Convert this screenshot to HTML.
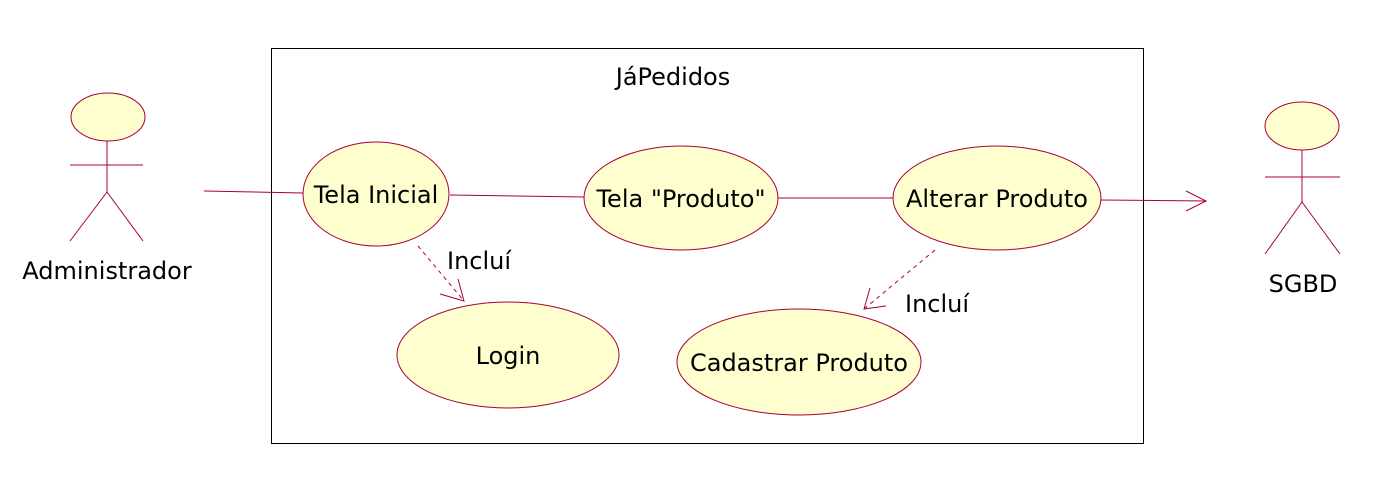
<!DOCTYPE html>
<html><head><meta charset="utf-8"><style>body{margin:0;background:#fff}svg{display:block}text{font-family:"DejaVu Sans","Liberation Sans",sans-serif;font-size:24px;fill:#000}</style></head>
<body>
<svg width="1395" height="491" viewBox="0 0 1395 491" xmlns="http://www.w3.org/2000/svg">
<rect x="271.5" y="48.5" width="872" height="395" fill="#fff" stroke="#000" stroke-width="1"/>
<text x="673" y="85" text-anchor="middle">JáPedidos</text>
<g stroke="#a80036" stroke-width="1" fill="none">
<ellipse cx="108" cy="117" rx="37" ry="24" fill="#fefece"/>
<line x1="107" y1="141" x2="107" y2="192"/><line x1="70" y1="165" x2="143" y2="165"/>
<line x1="107" y1="192" x2="70" y2="241"/><line x1="107" y1="192" x2="143" y2="241"/>
<ellipse cx="1302" cy="126" rx="37" ry="24" fill="#fefece"/>
<line x1="1302" y1="150" x2="1302" y2="202"/><line x1="1265" y1="177" x2="1340" y2="177"/>
<line x1="1302" y1="202" x2="1265" y2="254"/><line x1="1302" y1="202" x2="1340" y2="254"/>
<line x1="204" y1="191" x2="303" y2="193"/>
<line x1="450" y1="195" x2="584" y2="197"/>
<line x1="778" y1="198" x2="893" y2="198"/>
<line x1="1101" y1="200" x2="1206" y2="201"/>
<polyline points="1186,191 1206,201 1186,211"/>
<line x1="418" y1="246" x2="464" y2="301" stroke-dasharray="4,4"/>
<polyline points="440,294 464,301 458,279"/>
<line x1="935" y1="250" x2="864" y2="309" stroke-dasharray="4,4"/>
<polyline points="870,288 864,309 886,306"/>
<ellipse cx="376" cy="194" rx="73" ry="52" fill="#fefece"/>
<ellipse cx="681" cy="198" rx="97" ry="52" fill="#fefece"/>
<ellipse cx="997" cy="198" rx="104" ry="52" fill="#fefece"/>
<ellipse cx="508" cy="355" rx="111" ry="53" fill="#fefece"/>
<ellipse cx="799" cy="362" rx="122" ry="53" fill="#fefece"/>
</g>
<text x="107" y="279" text-anchor="middle">Administrador</text>
<text x="1303" y="292" text-anchor="middle">SGBD</text>
<text x="376" y="203" text-anchor="middle">Tela Inicial</text>
<text x="681" y="207" text-anchor="middle">Tela "Produto"</text>
<text x="997" y="207" text-anchor="middle">Alterar Produto</text>
<text x="508" y="364" text-anchor="middle">Login</text>
<text x="799" y="371" text-anchor="middle">Cadastrar Produto</text>
<text x="447" y="269">Incluí</text>
<text x="905" y="312">Incluí</text>
</svg>
</body></html>
